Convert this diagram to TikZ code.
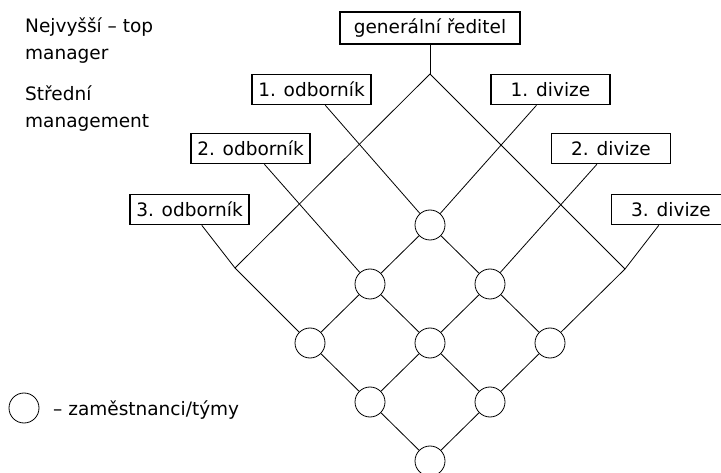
\documentclass[tikz,border=0pt]{standalone}
\usepackage{fontspec}
\setmainfont{DejaVu Sans}
\begin{document}
\begin{tikzpicture}[x=1pt,y=-1pt,
  font=\fontsize{18.5}{27}\selectfont,
  box/.style={draw,line width=1.6pt,minimum width=119pt,minimum height=30pt,inner sep=0pt},
  kruh/.style={draw,circle,line width=0.8pt,minimum size=30pt,inner sep=0pt},
  spoj/.style={line width=0.8pt}]

\clip (0,0) rectangle (721,473);

% popisky vlevo
\node[anchor=base west,align=left,inner sep=0pt] (vrchni) at (25,60) {Nejvyšší – top\\manager};
\node[anchor=base west,align=left,inner sep=0pt] (stredni) at (25,128) {Střední\\management};

% vedeni
\node[box,minimum width=180pt,minimum height=32pt] (gr) at (430,28) {generální ředitel};

\node[box] (odb1) at (311.5,89.5) {1. odborník};
\node[box] (odb2) at (250.5,148.5) {2. odborník};
\node[box] (odb3) at (189.5,209.5) {3. odborník};

\node[box] (div1) at (550.5,89.5) {1. divize};
\node[box] (div2) at (611,148.5) {2. divize};
\node[box] (div3) at (671,209.5) {3. divize};

\coordinate (ts) at (430,74);
\coordinate (jl) at (235,268);
\coordinate (jr) at (625,269);

% zamestnanci
\node[kruh] (c11) at (430,225) {};
\node[kruh] (c12) at (490,284) {};
\node[kruh] (c13) at (550,343) {};
\node[kruh] (c21) at (370,284) {};
\node[kruh] (c22) at (430,343) {};
\node[kruh] (c23) at (490,402) {};
\node[kruh] (c31) at (310,343) {};
\node[kruh] (c32) at (370,402) {};
\node[kruh] (c33) at (430,461) {};

\draw[spoj] (gr) -- (ts);
\draw[spoj] (ts) -- (jl);
\draw[spoj] (ts) -- (jr);

\draw[spoj] (odb1) -- (c11) -- (c12) -- (c13);
\draw[spoj] (odb2) -- (c21) -- (c22) -- (c23);
\draw[spoj] (odb3) -- (jl) -- (c31) -- (c32) -- (c33);

\draw[spoj] (div1) -- (c11) -- (c21) -- (c31);
\draw[spoj] (div2) -- (c12) -- (c22) -- (c32);
\draw[spoj] (div3) -- (jr) -- (c13) -- (c23) -- (c33);

% legenda
\node[kruh] (leg) at (24,408) {};
\node[anchor=base west,inner sep=0pt] (legtext) at (53,415) {– zaměstnanci/týmy};

\end{tikzpicture}
\end{document}
